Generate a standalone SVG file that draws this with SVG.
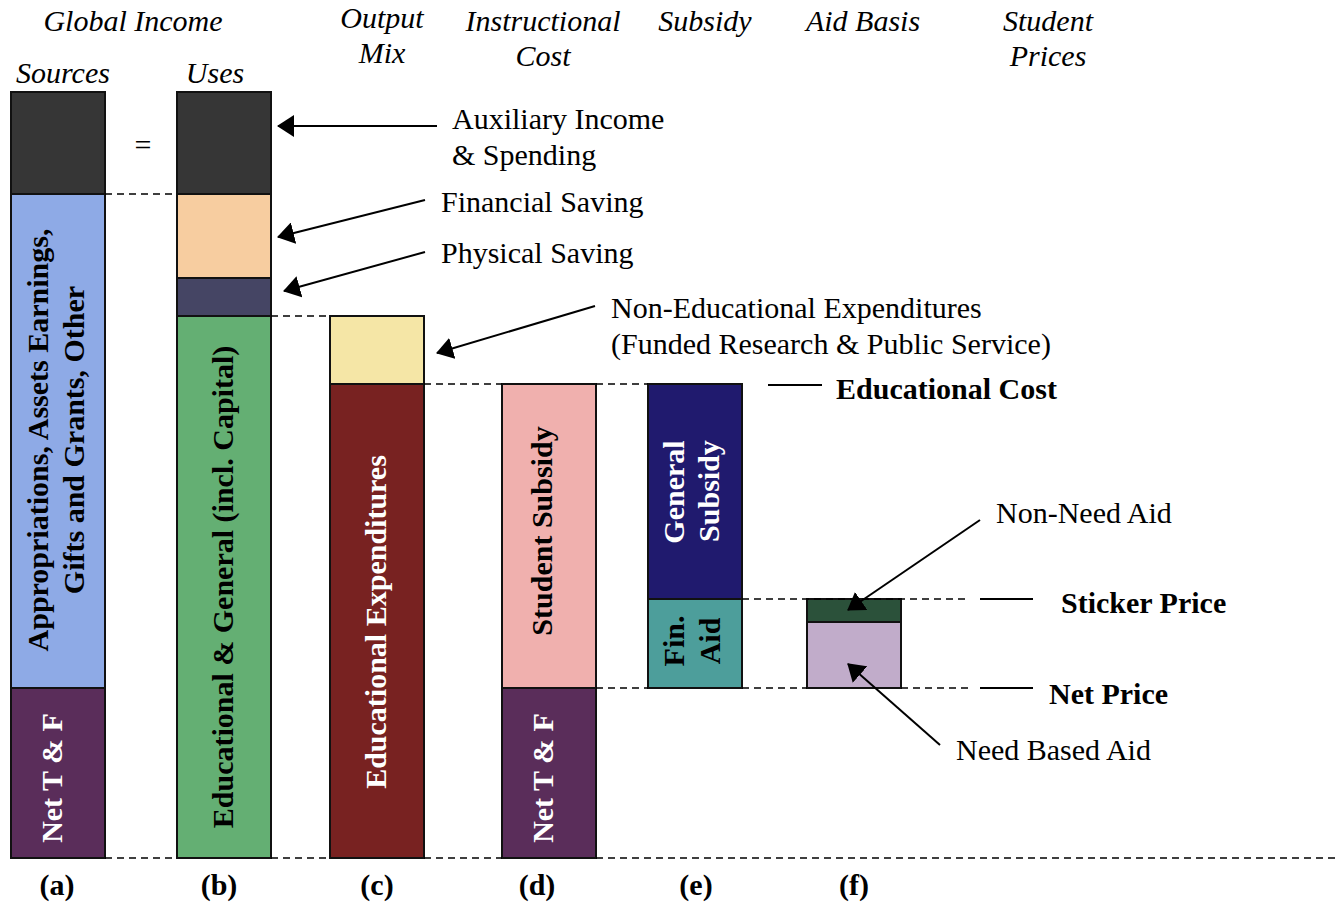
<svg xmlns="http://www.w3.org/2000/svg" width="1336" height="904" viewBox="0 0 1336 904">
<defs>
<marker id="ah" markerWidth="17" markerHeight="22" refX="16" refY="11" orient="auto" markerUnits="userSpaceOnUse" viewBox="0 0 17 22">
<path d="M0,0 L17,11 L0,22 z" fill="#000"/>
</marker>
<style>
.t{font-family:"Liberation Serif","Times New Roman",serif;font-size:30px;fill:#000}
.h{font-style:italic;text-anchor:middle}
.b{font-weight:bold}
.w{fill:#fff}
.m{text-anchor:middle}
.bar{stroke:#111;stroke-width:2}
.dash{stroke:#000;stroke-width:1.5;stroke-dasharray:7 5;fill:none}
.ln{stroke:#000;stroke-width:2;fill:none}
.arr{stroke:#000;stroke-width:2;fill:none}
</style>
</defs>
<rect width="1336" height="904" fill="#fff"/>
<g id="headers">
<text class="t h" x="133" y="31">Global Income</text>
<text class="t h" x="63" y="83">Sources</text>
<text class="t h" x="215" y="83">Uses</text>
<text class="t h" x="382" y="28">Output</text>
<text class="t h" x="382" y="63">Mix</text>
<text class="t h" x="543" y="31">Instructional</text>
<text class="t h" x="543" y="66">Cost</text>
<text class="t h" x="705" y="31">Subsidy</text>
<text class="t h" x="863" y="31">Aid Basis</text>
<text class="t h" x="1048" y="31">Student</text>
<text class="t h" x="1048" y="66">Prices</text>
<text class="t m" x="143" y="155">=</text>
</g>
<g id="bar-a">
<rect class="bar" x="11" y="92" width="94" height="102" fill="#363636"/>
<rect class="bar" x="11" y="194" width="94" height="494" fill="#8eaae6"/>
<rect class="bar" x="11" y="688" width="94" height="170" fill="#5a2d5a"/>
<text class="t b m" transform="translate(48,440) rotate(-90)">Appropriations, Assets Earnings,</text>
<text class="t b m" transform="translate(84,440) rotate(-90)">Gifts and Grants, Other</text>
<text class="t b m w" transform="translate(62,778) rotate(-90)">Net T &amp; F</text>
</g>
<g id="bar-b">
<rect class="bar" x="177" y="92" width="94" height="102" fill="#363636"/>
<rect class="bar" x="177" y="194" width="94" height="84" fill="#f7cda0"/>
<rect class="bar" x="177" y="278" width="94" height="38" fill="#454564"/>
<rect class="bar" x="177" y="316" width="94" height="542" fill="#64af73"/>
<text class="t b m" transform="translate(233,587) rotate(-90)">Educational &amp; General (incl. Capital)</text>
</g>
<g id="bar-c">
<rect class="bar" x="330" y="316" width="94" height="68" fill="#f5e6a6"/>
<rect class="bar" x="330" y="384" width="94" height="474" fill="#782221"/>
<text class="t b m w" transform="translate(386,622) rotate(-90)">Educational Expenditures</text>
</g>
<g id="bar-d">
<rect class="bar" x="502" y="384" width="94" height="304" fill="#f0b0ae"/>
<rect class="bar" x="502" y="688" width="94" height="170" fill="#5a2d5a"/>
<text class="t b m" transform="translate(552,531) rotate(-90)">Student Subsidy</text>
<text class="t b m w" transform="translate(553,778) rotate(-90)">Net T &amp; F</text>
</g>
<g id="bar-e">
<rect class="bar" x="648" y="384" width="94" height="215" fill="#201a6e"/>
<rect class="bar" x="648" y="599" width="94" height="89" fill="#4d9e9b"/>
<text class="t b m w" transform="translate(684,492) rotate(-90)">General</text>
<text class="t b m w" transform="translate(719,491) rotate(-90)">Subsidy</text>
<text class="t b m" transform="translate(684,641) rotate(-90)">Fin.</text>
<text class="t b m" transform="translate(720,641) rotate(-90)">Aid</text>
</g>
<g id="bar-f">
<rect class="bar" x="807" y="599" width="94" height="23" fill="#2b513a"/>
<rect class="bar" x="807" y="622" width="94" height="66" fill="#c1acca"/>
</g>
<g id="connectors">
<line class="dash" x1="105" y1="194" x2="172" y2="194"/>
<line class="dash" x1="271" y1="316" x2="330" y2="316"/>
<line class="dash" x1="424" y1="384" x2="502" y2="384"/>
<line class="dash" x1="596" y1="384" x2="648" y2="384"/>
<line class="dash" x1="742" y1="599" x2="965" y2="599"/>
<line class="dash" x1="596" y1="688" x2="648" y2="688"/>
<line class="dash" x1="742" y1="688" x2="807" y2="688"/>
<line class="dash" x1="901" y1="688" x2="968" y2="688"/>
<line class="dash" x1="105" y1="858" x2="177" y2="858"/>
<line class="dash" x1="271" y1="858" x2="330" y2="858"/>
<line class="dash" x1="424" y1="858" x2="502" y2="858"/>
<line class="dash" x1="596" y1="858" x2="1336" y2="858"/>
<line class="ln" x1="768" y1="385" x2="822" y2="385"/>
<line class="ln" x1="980" y1="599" x2="1033" y2="599"/>
<line class="ln" x1="980" y1="688" x2="1033" y2="688"/>
<line class="arr" marker-end="url(#ah)" x1="437" y1="126" x2="278" y2="126"/>
<line class="arr" marker-end="url(#ah)" x1="425" y1="200" x2="278" y2="237"/>
<line class="arr" marker-end="url(#ah)" x1="425" y1="252" x2="284" y2="291"/>
<line class="arr" marker-end="url(#ah)" x1="595" y1="306" x2="437" y2="353"/>
<line class="arr" marker-end="url(#ah)" x1="980" y1="520" x2="848" y2="610"/>
<line class="arr" marker-end="url(#ah)" x1="940" y1="745" x2="848" y2="664"/>
</g>
<g id="labels">
<text class="t" x="452" y="129">Auxiliary Income</text>
<text class="t" x="452" y="165">&amp; Spending</text>
<text class="t" x="441" y="212">Financial Saving</text>
<text class="t" x="441" y="263">Physical Saving</text>
<text class="t" x="611" y="318">Non-Educational Expenditures</text>
<text class="t" x="611" y="354">(Funded Research &amp; Public Service)</text>
<text class="t b" x="836" y="399">Educational Cost</text>
<text class="t" x="996" y="523">Non-Need Aid</text>
<text class="t b" x="1061" y="613">Sticker Price</text>
<text class="t b" x="1049" y="704">Net Price</text>
<text class="t" x="956" y="760">Need Based Aid</text>
</g>
<g id="letters">
<text class="t b m" x="57" y="895">(a)</text>
<text class="t b m" x="219" y="895">(b)</text>
<text class="t b m" x="377" y="895">(c)</text>
<text class="t b m" x="537" y="895">(d)</text>
<text class="t b m" x="696" y="895">(e)</text>
<text class="t b m" x="854" y="895">(f)</text>
</g>
</svg>
